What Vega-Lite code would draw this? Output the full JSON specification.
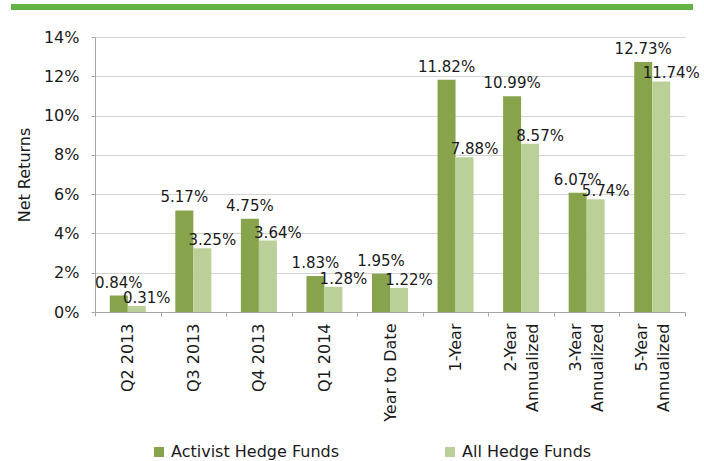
{
  "$schema": "https://vega.github.io/schema/vega-lite/v6.json",
  "background": "white",
  "padding": {"left": 10, "top": 4, "right": 5, "bottom": 5},
  "config": {
    "font": "DejaVu Sans",
    "view": {"stroke": null},
    "concat": {"spacing": 19}
  },
  "datasets": {
    "returns": [
      {"period": "Q2 2013", "fund": "Activist Hedge Funds", "ret": 0.0084},
      {"period": "Q2 2013", "fund": "All Hedge Funds", "ret": 0.0031},
      {"period": "Q3 2013", "fund": "Activist Hedge Funds", "ret": 0.0517},
      {"period": "Q3 2013", "fund": "All Hedge Funds", "ret": 0.0325},
      {"period": "Q4 2013", "fund": "Activist Hedge Funds", "ret": 0.0475},
      {"period": "Q4 2013", "fund": "All Hedge Funds", "ret": 0.0364},
      {"period": "Q1 2014", "fund": "Activist Hedge Funds", "ret": 0.0183},
      {"period": "Q1 2014", "fund": "All Hedge Funds", "ret": 0.0128},
      {"period": "Year to Date", "fund": "Activist Hedge Funds", "ret": 0.0195},
      {"period": "Year to Date", "fund": "All Hedge Funds", "ret": 0.0122},
      {"period": "1-Year", "fund": "Activist Hedge Funds", "ret": 0.1182},
      {"period": "1-Year", "fund": "All Hedge Funds", "ret": 0.0788},
      {"period": "2-Year|Annualized", "fund": "Activist Hedge Funds", "ret": 0.1099},
      {"period": "2-Year|Annualized", "fund": "All Hedge Funds", "ret": 0.0857},
      {"period": "3-Year|Annualized", "fund": "Activist Hedge Funds", "ret": 0.0607},
      {"period": "3-Year|Annualized", "fund": "All Hedge Funds", "ret": 0.0574},
      {"period": "5-Year|Annualized", "fund": "Activist Hedge Funds", "ret": 0.1273},
      {"period": "5-Year|Annualized", "fund": "All Hedge Funds", "ret": 0.1174}
    ],
    "header": [{"band": "header", "start": -0.1424, "end": 1.0136, "bottom": 0, "top": 1}]
  },
  "vconcat": [
    {
      "width": 590,
      "height": 6,
      "data": {"name": "header"},
      "mark": {"type": "rect", "color": "#62b346", "clip": false},
      "encoding": {
        "x": {"field": "start", "type": "quantitative", "scale": {"domain": [0, 1], "nice": false, "zero": false}, "axis": null},
        "x2": {"field": "end"},
        "y": {"field": "bottom", "type": "quantitative", "scale": {"domain": [0, 1]}, "axis": null},
        "y2": {"field": "top"}
      }
    },
    {
      "width": 590,
      "height": 275,
      "data": {"name": "returns"},
      "encoding": {
        "x": {
          "field": "period",
          "type": "nominal",
          "sort": null,
          "scale": {"paddingInner": 0, "paddingOuter": 0},
          "axis": {
            "title": null,
            "labelAngle": -90,
            "labelAlign": "right",
            "labelBaseline": "middle",
            "labelExpr": "isValid(datum.value) ? split(datum.value, '|') : ''",
            "labelOffset": {"condition": {"test": "isValid(datum.value) && indexof(datum.value, '|') >= 0", "value": -11}, "value": 0},
            "labelFontSize": 16,
            "labelLineHeight": 22,
            "labelColor": "#1a1a1a",
            "labelPadding": 7,
            "tickBand": "extent",
            "tickSize": 4,
            "tickColor": "#a6a6a6",
            "domainColor": "#a6a6a6",
            "grid": false
          }
        },
        "xOffset": {
          "field": "fund",
          "type": "nominal",
          "scale": {"domain": ["Activist Hedge Funds", "All Hedge Funds"], "paddingInner": 0, "paddingOuter": 0.82}
        },
        "y": {
          "field": "ret",
          "type": "quantitative",
          "scale": {"domain": [0, 0.14], "nice": false},
          "axis": {
            "title": "Net Returns",
            "titleFontSize": 16,
            "titleFontWeight": "normal",
            "titleColor": "#1a1a1a",
            "titlePadding": 11,
            "format": ".0%",
            "values": [0, 0.02, 0.04, 0.06, 0.08, 0.1, 0.12, 0.14],
            "labelFontSize": 16,
            "labelColor": "#1a1a1a",
            "labelPadding": 12,
            "tickSize": 4,
            "tickColor": "#a6a6a6",
            "domainColor": "#a6a6a6",
            "gridColor": "#d4d4d4"
          }
        }
      },
      "layer": [
        {
          "mark": {"type": "bar"},
          "encoding": {
            "color": {
              "field": "fund",
              "type": "nominal",
              "scale": {"domain": ["Activist Hedge Funds", "All Hedge Funds"], "range": ["#87a34b", "#bbd099"]},
              "legend": {
                "title": null,
                "orient": "none",
                "legendX": 56,
                "legendY": 440,
                "direction": "horizontal",
                "symbolType": "square",
                "symbolSize": 100,
                "symbolStrokeWidth": 0,
                "labelFontSize": 16,
                "labelLimit": 400,
                "labelColor": "#1a1a1a",
                "columnPadding": 102
              }
            }
          }
        },
        {
          "transform": [{"filter": "datum.fund == 'Activist Hedge Funds'"}],
          "mark": {"type": "text", "baseline": "middle", "dy": -13, "fontSize": 15, "color": "#1a1a1a"},
          "encoding": {"text": {"field": "ret", "type": "quantitative", "format": ".2%"}}
        },
        {
          "transform": [{"filter": "datum.fund == 'All Hedge Funds'"}],
          "mark": {"type": "text", "baseline": "middle", "dx": 10, "dy": -8, "fontSize": 15, "color": "#1a1a1a"},
          "encoding": {"text": {"field": "ret", "type": "quantitative", "format": ".2%"}}
        }
      ]
    }
  ]
}
